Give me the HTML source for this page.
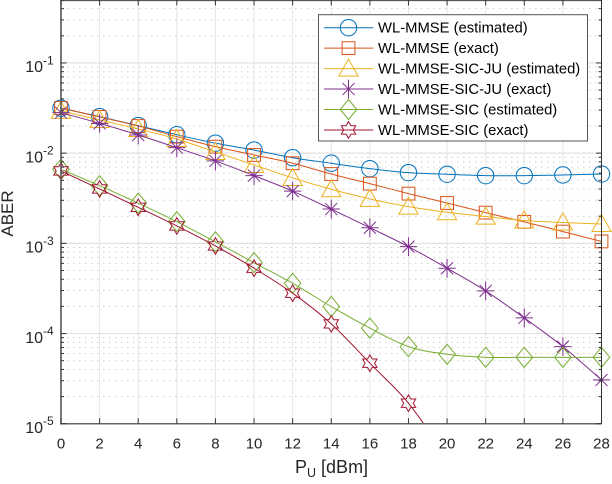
<!DOCTYPE html>
<html>
<head>
<meta charset="utf-8">
<title>ABER vs PU</title>
<style>
html,body{margin:0;padding:0;background:#fff;width:612px;height:484px;overflow:hidden}
svg{display:block;font-family:"Liberation Sans",sans-serif}
</style>
</head>
<body>
<svg id="chart" width="612" height="484" viewBox="0 0 612 484" xmlns="http://www.w3.org/2000/svg">
<defs><clipPath id="plot-clip"><rect x="61" y="0" width="540.5" height="423.7"/></clipPath></defs>
<g id="grid"></g>
<g id="series"></g>
<g id="axes"></g>
<g id="legend"></g>
<text transform="translate(13,213.5) rotate(-90)" text-anchor="middle" font-size="17" fill="#262626">ABER</text>
<text x="295" y="473" font-size="18" fill="#262626">P<tspan font-size="12.5" dy="4">U</tspan><tspan dy="-4"> [dBm]</tspan></text>
</svg>
<script>
const xCategories = [0,2,4,6,8,10,12,14,16,18,20,22,24,26,28];
const xTickLabels = ['0','2','4','6','8','10','12','14','16','18','20','22','24','26','28'];
const yTickExponents = [-1,-2,-3,-4,-5];
const yTickLabelBase = '10';
const seriesNames = ['WL-MMSE (estimated)','WL-MMSE (exact)','WL-MMSE-SIC-JU (estimated)','WL-MMSE-SIC-JU (exact)','WL-MMSE-SIC (estimated)','WL-MMSE-SIC (exact)'];
const wlMmseEstimated = [0.0315,0.0254,0.0202,0.0160,0.0129,0.0108,0.0089,0.00773,0.00673,0.00608,0.00583,0.00563,0.00563,0.00573,0.00587];
const wlMmseExact = [0.0317,0.0252,0.0200,0.01524,0.0118,0.00955,0.00773,0.00587,0.00459,0.00356,0.00280,0.00219,0.00173,0.00135,0.00105];
const sicJuEstimated = [0.0294,0.0233,0.01853,0.01435,0.0103,0.0074,0.00531,0.00398,0.00311,0.00255,0.00221,0.00198,0.00179,0.00170,0.00164];
const sicJuExact = [0.0281,0.0214,0.0159,0.0115,0.0082,0.00564,0.00379,0.00240,0.00149,0.000919,0.000530,0.000297,0.000149,0.0000716,0.0000306];
const sicEstimated = [0.00662,0.00436,0.00279,0.00174,0.00104,0.000611,0.000361,0.000199,0.000115,0.0000716,0.0000589,0.0000545,0.0000545,0.0000545,0.0000545];
const sicExact = [0.00635,0.00401,0.00251,0.00156,0.000935,0.00053,0.00028,0.000128,0.0000469,0.0000169,0.0000042];

const NS = 'http://www.w3.org/2000/svg';
const X0 = 61, X1 = 601.5, XMIN = 0, XMAX = 28;
const YTOP = -0.1, PER_DECADE = 90.2, LOG_TOP = Math.log10(0.5);
function xScale(v){ return X0 + (v - XMIN) / (XMAX - XMIN) * (X1 - X0); }
function yScale(v){ return YTOP + (LOG_TOP - Math.log10(v)) * PER_DECADE; }
function mk(tag, attrs, parent){
  const el = document.createElementNS(NS, tag);
  for (const k in attrs) el.setAttribute(k, attrs[k]);
  parent.appendChild(el);
  return el;
}
const gridG = document.getElementById('grid');
const axesG = document.getElementById('axes');
const seriesG = document.getElementById('series');
const legendG = document.getElementById('legend');
const YBOTTOM = yScale(1e-5);

/* grid */
xCategories.forEach(function(v){
  const line = mk('line', {x1:xScale(v), x2:xScale(v), y1:0, y2:YBOTTOM, stroke:'#e6e6e6', 'stroke-width':1}, gridG);
  
  
});
for (let e = -5; e <= -1; e++) {
  for (let m = 1; m <= 9; m++) {
    const val = m * Math.pow(10, e);
    const y = yScale(val);
    if (m === 1) {
      if (e === -5) continue;
      const major = mk('line', {x1:X0, x2:X1, y1:y, y2:y, stroke:'#e2e2e2', 'stroke-width':1.2}, gridG);
      
      
      continue;
    }
    if (val > 0.5) continue;
    const minor = mk('line', {x1:X0, x2:X1, y1:y, y2:y, stroke:'#cfcfcf', 'stroke-width':1, 'stroke-dasharray':'1.5 4.5'}, gridG);
    
    
  }
}

/* markers */
function markerShape(kind, cx, cy, color, parent){
  const base = {fill:'none', stroke:color, 'stroke-width':1};
  let el;
  if (kind === 'circle') {
    el = mk('circle', Object.assign({cx:cx, cy:cy, r:8.2}, base), parent);
  } else if (kind === 'square') {
    el = mk('rect', Object.assign({x:cx-6.4, y:cy-6.4, width:12.8, height:12.8}, base), parent);
  } else if (kind === 'triangle') {
    el = mk('polygon', Object.assign({points:[cx,cy-9.5, cx+9.6,cy+7.5, cx-9.6,cy+7.5].join(' ')}, base), parent);
  } else if (kind === 'asterisk') {
    const a = 8.6, b = 9.4, d = 6;
    const dd = 'M'+(cx-a)+' '+cy+'H'+(cx+a)+'M'+cx+' '+(cy-b)+'V'+(cy+b)+
      'M'+(cx-d)+' '+(cy-d)+'L'+(cx+d)+' '+(cy+d)+'M'+(cx-d)+' '+(cy+d)+'L'+(cx+d)+' '+(cy-d);
    el = mk('path', Object.assign({d:dd}, base), parent);
  } else if (kind === 'diamond') {
    el = mk('polygon', Object.assign({points:[cx,cy-10, cx+8.3,cy, cx,cy+10, cx-8.3,cy].join(' ')}, base), parent);
  } else {
    const R = 8.3, r = 4.8, pts = [];
    for (let i = 0; i < 12; i++) {
      const rad = i % 2 === 0 ? R : r;
      const ang = -Math.PI / 2 + i * Math.PI / 6;
      pts.push((cx + rad * Math.cos(ang)).toFixed(2), (cy + rad * Math.sin(ang)).toFixed(2));
    }
    el = mk('polygon', Object.assign({points:pts.join(' ')}, base), parent);
  }
  return el;
}

/* smooth line through the points */
function smoothPath(pts){
  let d = 'M' + pts[0][0] + ' ' + pts[0][1];
  for (let i = 0; i < pts.length - 1; i++) {
    const p0 = pts[Math.max(i-1,0)], p1 = pts[i], p2 = pts[i+1], p3 = pts[Math.min(i+2,pts.length-1)];
    d += 'C' + (p1[0]+(p2[0]-p0[0])/6) + ' ' + (p1[1]+(p2[1]-p0[1])/6) + ' ' +
         (p2[0]-(p3[0]-p1[0])/6) + ' ' + (p2[1]-(p3[1]-p1[1])/6) + ' ' + p2[0] + ' ' + p2[1];
  }
  return d;
}

const seriesColors = ['#0072BD','#D95319','#EDB120','#7E2F8E','#77AC30','#A2142F'];
const seriesMarkers = ['circle','square','triangle','asterisk','diamond','hexagram'];
const seriesValues = [wlMmseEstimated, wlMmseExact, sicJuEstimated, sicJuExact, sicEstimated, sicExact];

seriesValues.forEach(function(vals, si){
  const color = seriesColors[si];
  const g = mk('g', {}, seriesG);
  
  
  const pts = vals.map(function(v, i){ return [xScale(xCategories[i]), yScale(v)]; });
  const line = mk('path', {d:smoothPath(pts), fill:'none', stroke:color, 'stroke-width':1, 'clip-path':'url(#plot-clip)'}, g);
  
  
  pts.forEach(function(p){
    if (p[1] > YBOTTOM) return;
    const m = markerShape(seriesMarkers[si], p[0], p[1], color, g);
    
    
  });
});

/* axes box */
const frameColors = {left:'#555', bottom:'#666', top:'#555', right:'#333'};
const leftAxis = mk('line', {x1:X0, x2:X0, y1:0, y2:YBOTTOM+0.8, stroke:frameColors.left, 'stroke-width':1.6}, axesG);


const bottomAxis = mk('line', {x1:X0, x2:X1, y1:YBOTTOM, y2:YBOTTOM, stroke:frameColors.bottom, 'stroke-width':1.6}, axesG);


const topAxis = mk('line', {x1:X0, x2:X1, y1:0.5, y2:0.5, stroke:frameColors.top, 'stroke-width':1.2}, axesG);


const rightAxis = mk('line', {x1:X1, x2:X1, y1:0, y2:YBOTTOM, stroke:frameColors.right, 'stroke-width':1}, axesG);



/* x ticks */
xCategories.forEach(function(v, i){
  const x = xScale(v);
  const bt = mk('line', {x1:x, x2:x, y1:YBOTTOM, y2:YBOTTOM-5.5, stroke:'#333', 'stroke-width':1}, axesG);
  
  
  const tt = mk('line', {x1:x, x2:x, y1:0, y2:5.5, stroke:'#333', 'stroke-width':1}, axesG);
  
  
  const label = mk('text', {x:x, y:448.5, 'text-anchor':'middle', 'font-size':15, fill:'#262626'}, axesG);
  label.textContent = xTickLabels[i];
  
  
});

/* y ticks */
for (let e = -5; e <= -1; e++) {
  for (let m = 1; m <= 9; m++) {
    const val = m * Math.pow(10, e);
    if (val > 0.5) continue;
    const y = yScale(val);
    const len = m === 1 ? 5.5 : 3;
    const lt = mk('line', {x1:X0, x2:X0+len, y1:y, y2:y, stroke:'#333', 'stroke-width':1}, axesG);
    
    
    const rt = mk('line', {x1:X1, x2:X1-len, y1:y, y2:y, stroke:'#333', 'stroke-width':1}, axesG);
    
    
  }
}
yTickExponents.forEach(function(e){
  const y = yScale(Math.pow(10, e));
  const label = mk('text', {x:43, y:y+9.3, 'text-anchor':'end', 'font-size':16, fill:'#262626'}, axesG);
  label.textContent = yTickLabelBase;
  
  
  const exp = mk('text', {x:43, y:y+1.5, 'font-size':12, fill:'#262626'}, axesG);
  exp.textContent = '-' + Math.abs(e);
  
  
});

/* legend */
const legendBox = mk('rect', {x:318.5, y:14.7, width:269, height:126.3, fill:'#fff', stroke:'#555', 'stroke-width':1}, legendG);


seriesNames.forEach(function(name, i){
  const y = 27.7 + i * 20.45;
  const g = mk('g', {}, legendG);
  
  
  const ln = mk('line', {x1:324, x2:373.3, y1:y, y2:y, stroke:seriesColors[i], 'stroke-width':1}, g);
  
  
  const mkEl = markerShape(seriesMarkers[i], 348.5, y, seriesColors[i], g);
  
  
  const t = mk('text', {x:378, y:y+5, 'font-size':14.8, fill:'#000'}, g);
  t.textContent = name;
  
  
});
</script>
</body>
</html>
